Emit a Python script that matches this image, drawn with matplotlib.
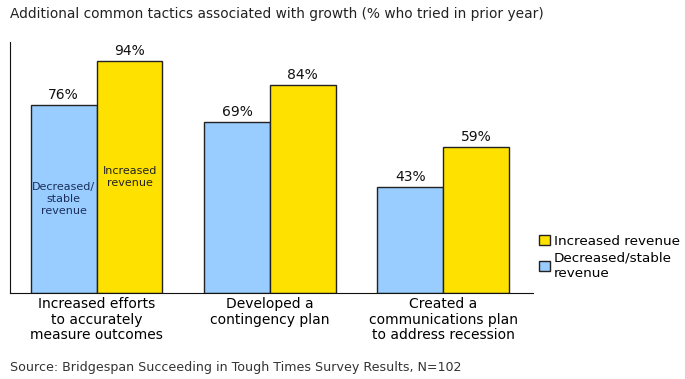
import matplotlib.pyplot as plt
import numpy as np

# ============================================================
# DATA
# ============================================================
categories = ["Increased efforts\nto accurately\nmeasure outcomes",
              "Developed a\ncontingency plan",
              "Created a\ncommunications plan\nto address recession"]
decreased = [76, 69, 43]
increased = [94, 84, 59]

BLUE = "#99CCFF"
YELLOW = "#FFE100"
EDGE = "#222222"

# ============================================================
# FIGURE
# ============================================================
fig = plt.figure(figsize=(6.85, 3.79), dpi=100)
ax = fig.add_axes([0.0146, 0.227, 0.764, 0.662])

x = np.arange(len(categories))
w = 0.38
b1 = ax.bar(x - w / 2, decreased, w, color=BLUE, edgecolor=EDGE, linewidth=1,
            label="Decreased/stable\nrevenue")
b2 = ax.bar(x + w / 2, increased, w, color=YELLOW, edgecolor=EDGE, linewidth=1,
            label="Increased revenue")

for bars, vals in [(b1, decreased), (b2, increased)]:
    for r, v in zip(bars, vals):
        ax.text(r.get_x() + r.get_width() / 2, v + 1.2, f"{v}%",
                ha="center", va="bottom", fontsize=10, color="#111111")

# labels inside the first group's bars
ax.text(x[0] - w / 2, 38, "Decreased/\nstable\nrevenue", ha="center", va="center",
        fontsize=8, color="#1a2f5a", linespacing=1.3)
ax.text(x[0] + w / 2, 47, "Increased\nrevenue", ha="center", va="center",
        fontsize=8, color="#222222", linespacing=1.3)

ax.set_xlim(-0.5, 2.52)
ax.set_ylim(0, 101.5)
ax.set_xticks(x)
ax.set_xticklabels(categories, fontsize=10, linespacing=1.15)
ax.tick_params(axis="x", length=0, pad=3)
ax.set_yticks([])
for s in ["top", "right"]:
    ax.spines[s].set_visible(False)
ax.spines["left"].set_color("#111111")
ax.spines["bottom"].set_color("#111111")

# ============================================================
# TEXT + LEGEND
# ============================================================
fig.text(0.0146, 0.962, "Additional common tactics associated with growth (% who tried in prior year)",
         fontsize=9.9, color="#222222", va="center")
fig.text(0.0146, 0.03, "Source: Bridgespan Succeeding in Tough Times Survey Results, N=102",
         fontsize=9.1, color="#333333", va="center")

leg = fig.legend(handles=[b2, b1], loc="upper left", bbox_to_anchor=(0.779, 0.395),
                 frameon=False, fontsize=9.7, handlelength=0.8, handleheight=0.8,
                 handletextpad=0.3, labelspacing=0.3, borderaxespad=0)

fig.savefig("out.png", dpi=100)
